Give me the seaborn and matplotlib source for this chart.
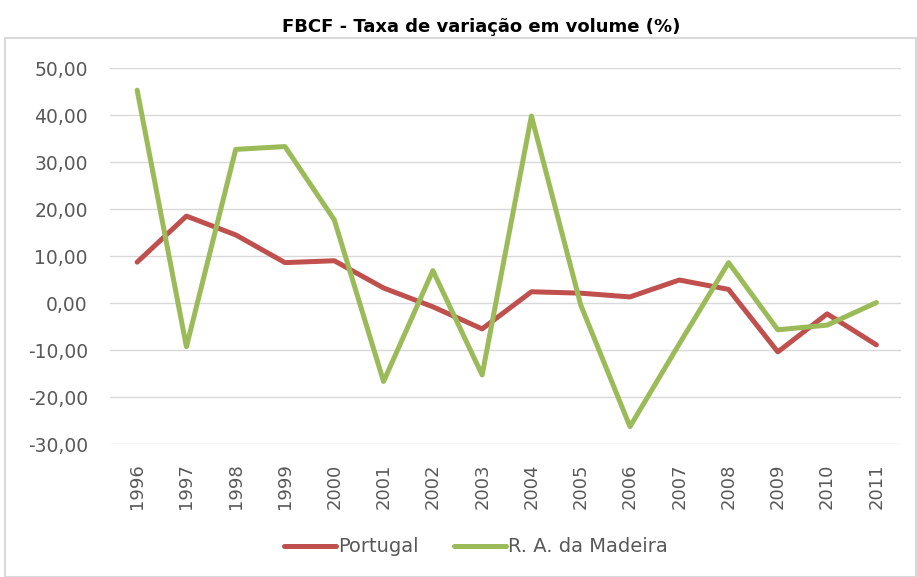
import matplotlib
matplotlib.use("Agg")
import matplotlib.pyplot as plt
from matplotlib.patches import Rectangle
from matplotlib.ticker import FuncFormatter, MultipleLocator
import seaborn as sns
import pandas as pd

years = [str(y) for y in range(1996, 2012)]
portugal = [8.7, 18.5, 14.5, 8.6, 9.0, 3.2, -0.8, -5.5, 2.4, 2.1, 1.3, 4.9, 2.9, -10.4, -2.3, -8.9]
madeira = [45.3, -9.3, 32.7, 33.3, 17.7, -16.7, 6.9, -15.3, 39.8, -0.4, -26.3, -8.7, 8.6, -5.7, -4.7, 0.1]
series_names = ["Portugal", "R. A. da Madeira"]
colors = ["#C0504D", "#9BBB59"]

df = pd.DataFrame({
    "ano": years * 2,
    "idx": list(range(len(years))) * 2,
    "valor": portugal + madeira,
    "serie": [series_names[0]] * len(years) + [series_names[1]] * len(years),
})

sns.set_theme(style="white")
plt.rcParams["font.family"] = ["DejaVu Sans"]

fig = plt.figure(figsize=(9.17, 5.77), dpi=100)
ax = fig.add_axes([0.12, 0.2305, 0.8626, 0.6515])

sns.lineplot(data=df, x="idx", y="valor", hue="serie", palette=colors,
             linewidth=3.6, ax=ax, legend=True, sort=False)

ax.set_ylim(-30, 50)
ax.set_xlim(-0.55, 15.5)
ax.yaxis.set_major_locator(MultipleLocator(10))
ax.yaxis.set_major_formatter(FuncFormatter(lambda v, p: f"{v:.2f}".replace(".", ",")))
ax.set_xticks(range(len(years)))
ax.set_xticklabels(years, rotation=90)
ax.tick_params(axis="both", colors="#595959", length=0)
ax.tick_params(axis="y", pad=16, labelsize=13.5)
ax.tick_params(axis="x", pad=14, labelsize=13)
ax.grid(axis="y", color="#D9D9D9", linewidth=1)
ax.set_axisbelow(True)
for s in ax.spines.values():
    s.set_visible(False)
ax.set_xlabel("")
ax.set_ylabel("")

handles, labels = ax.get_legend_handles_labels()
ax.legend(handles, labels, loc="center", bbox_to_anchor=(476 / 917, 1 - 547 / 577),
          bbox_transform=fig.transFigure, ncol=2, frameon=False, handlelength=2.7,
          handletextpad=0.1, columnspacing=1.8,
          prop={"family": ["DejaVu Sans"], "size": 14})
for t in ax.get_legend().get_texts():
    t.set_color("#595959")

fig.text(481 / 917, 1 - 27 / 577, "FBCF - Taxa de variação em volume (%)",
         ha="center", va="center", fontsize=13, fontweight="bold",
         family=["DejaVu Sans"], color="#000000")

fig.patches.append(Rectangle((5 / 917, 0.0), 1 - 6 / 917, 1 - 38 / 577,
                             transform=fig.transFigure, fill=False,
                             edgecolor="#D9D9D9", linewidth=1.5))

fig.savefig("out.png", dpi=100)
